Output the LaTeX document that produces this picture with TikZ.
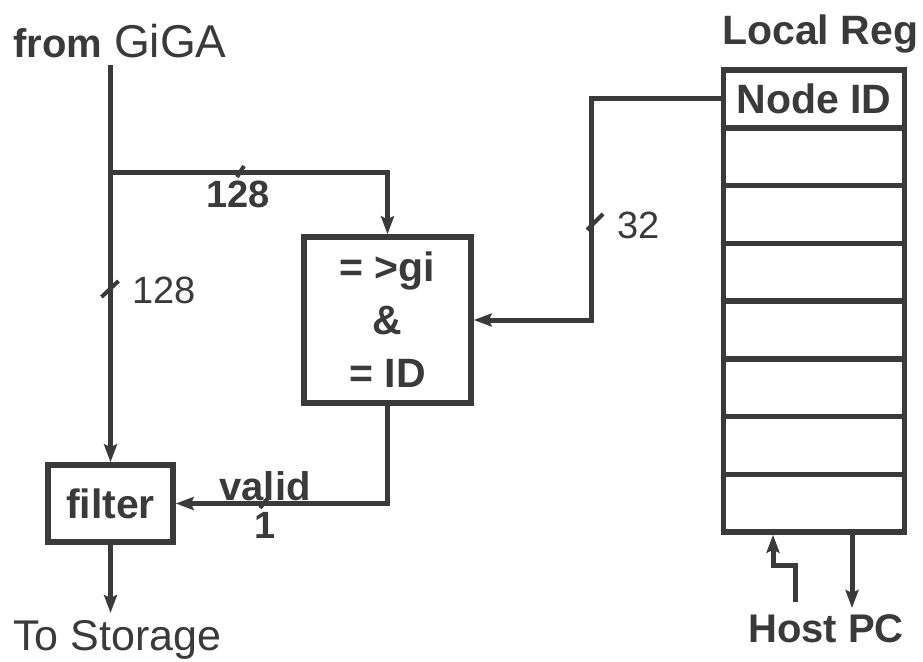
\documentclass[tikz,border=0pt]{standalone}
\usepackage{fontspec}
\setmainfont{Liberation Sans}
\usetikzlibrary{arrows.meta}
\definecolor{ink}{RGB}{58,58,58}
\begin{document}
\begin{tikzpicture}[x=1pt,y=-1pt,
  box/.style={draw=ink, line width=5.5pt, inner sep=0pt, text=ink},
  wire/.style={draw=ink, line width=5pt},
  arr/.style={wire, -{Stealth[length=18pt,width=13pt,inset=3pt]}},
  lbl/.style={font=\fontsize{40}{48}\selectfont\bfseries, inner sep=0pt, text=ink},
  plain/.style={font=\fontsize{38}{46}\selectfont, inner sep=0pt, text=ink},
  tick/.style={draw=ink, line width=4pt}]
\useasboundingbox (0,0) rectangle (923,661);

% boxes
\node[box, minimum width=125pt, minimum height=77pt, font=\fontsize{41}{48}\selectfont\bfseries] (filter) at (110.5,503.5) {filter};
\node[box, minimum width=167pt, minimum height=166pt, align=center, font=\fontsize{41}{53}\selectfont\bfseries] (cmp) at (387.5,320) {= >gi\\\&\\= ID};
\node[box, minimum width=181pt, minimum height=57.75pt, font=\fontsize{41}{48}\selectfont\bfseries] (r0) at (814,98.9) {Node ID};
\foreach \i in {1,...,7}
  \node[box, minimum width=181pt, minimum height=57.75pt] (r\i) at (814,{98.9+57.75*\i}) {};

% texts
\node[lbl, anchor=base west] (from) at (13,57) {from};
\node[plain, font=\fontsize{46}{54}\selectfont, anchor=base west] (giga) at (114,57) {GiGA};
\node[lbl, font=\fontsize{41}{48}\selectfont\bfseries, anchor=base west] (localreg) at (722,45) {Local Reg};
\node[lbl, anchor=base west] (host) at (748,642) {Host PC};
\node[plain, font=\fontsize{43}{52}\selectfont, anchor=base west] (storage) at (13,650) {To Storage};
\node[lbl, font=\fontsize{38}{46}\selectfont\bfseries, anchor=base] (w1) at (238,207) {128};
\node[plain, anchor=base west] (w2) at (132,303) {128};
\node[plain, anchor=base west] (w3) at (617,238) {32};
\node[lbl, anchor=base] (valid) at (265,500) {valid};
\node[lbl, font=\fontsize{38}{46}\selectfont\bfseries, anchor=base] (one) at (265,538) {1};

% connectors
\coordinate (src) at (110.5,65);
\coordinate (split) at (110.5,172);
\coordinate (store) at (110.5,613);
\coordinate (hx) at (773,0);
\coordinate (hx2) at (852,0);
\coordinate (hin) at (795,602);
\coordinate (hout) at (852,608);

\draw[arr] (src) -- (filter.north);
\draw[arr] (split) -| (cmp.north);
\draw[arr] (r0.west) -- ++(-129,0) coordinate (bend) |- (cmp.east);
\draw[arr] (cmp.south) |- (filter.east);
\draw[arr] (filter.south) -- (store);
\draw[arr] (hin) -- (795,565) -- (773,565) -- (hx |- r7.south);
\draw[arr] (hx2 |- r7.south) -- (hout);

% bus-width ticks
\coordinate (t1) at (240,172);
\coordinate (t2) at (110.5,289);
\coordinate (t3) at (595,222);
\coordinate (t4) at (264,503);
\draw[tick] (t1) ++(-3,5) -- ++(7,-11);
\draw[tick] (t2) ++(-9,8) -- ++(17,-16);
\draw[tick] (t3) ++(-8,8) -- ++(16,-16);
\draw[tick] (t4) ++(-4,5) -- ++(8,-10);
\end{tikzpicture}
\end{document}
